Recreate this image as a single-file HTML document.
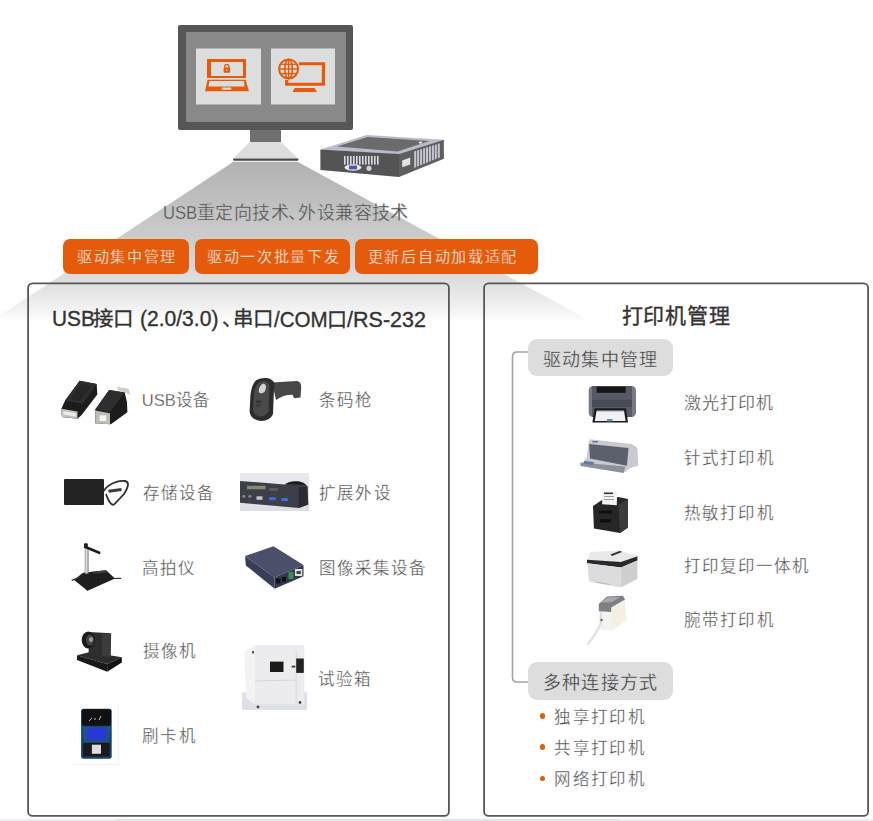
<!DOCTYPE html>
<html lang="zh-CN">
<head>
<meta charset="utf-8">
<style>
html,body{margin:0;padding:0;background:#fff;overflow:hidden;}
body{width:873px;height:821px;position:relative;overflow:hidden;font-family:"Liberation Sans",sans-serif;color:#555;}
.a{position:absolute;white-space:nowrap;line-height:1;}
svg{position:absolute;left:0;top:0;}
.btn{position:absolute;top:239px;height:35px;background:#e65a0b;border-radius:7px;}
.sb{top:204.2px;font-size:18px;color:#4a4a4a;-webkit-text-stroke:0.35px #c4c4c4;}
.bt{top:249.2px;font-size:15px;letter-spacing:1.7px;color:#fff;-webkit-text-stroke:0.3px #e65a0b;}
.tl{position:absolute;white-space:nowrap;line-height:1;transform-origin:0 0;color:#333;-webkit-text-stroke:0.35px #333;}
.box{position:absolute;top:282.5px;height:532px;border:1.6px solid #585858;border-radius:5px;}
.lbl{position:absolute;font-size:16.5px;line-height:1;color:#484848;white-space:nowrap;-webkit-text-stroke:0.3px #fff;}
.pill{position:absolute;left:528px;width:145px;background:#dcdddc;border-radius:9px;}
.pt{color:#3c3c3c;-webkit-text-stroke:0.3px #dcdddc;}
.dot{position:absolute;left:539.7px;width:5.6px;height:5.6px;border-radius:50%;background:#e65a0b;}
</style>
</head>
<body>
<!-- beam -->
<svg width="873" height="821" viewBox="0 0 873 821">
<defs>
<linearGradient id="bg" x1="0" y1="160" x2="0" y2="322" gradientUnits="userSpaceOnUse">
<stop offset="0" stop-color="#b1b1b1"/>
<stop offset="0.34" stop-color="#c4c4c4"/>
<stop offset="0.586" stop-color="#d2d2d2"/>
<stop offset="0.76" stop-color="#e0e0e0"/>
<stop offset="0.864" stop-color="#ebebeb"/>
<stop offset="0.938" stop-color="#f5f5f5"/>
<stop offset="1" stop-color="#ffffff"/>
</linearGradient>
</defs>
<polygon points="233.5,161.8 297.5,161.8 623.5,339 0,339 0,315.5" fill="url(#bg)"/>
<!-- bottom strip -->
<rect x="0" y="819" width="873" height="2" fill="#f0f0f2"/>
<rect x="115" y="819" width="505" height="2" fill="#e3e5eb"/>
</svg>
<svg width="873" height="821" viewBox="0 0 873 821">
<rect x="28.1" y="283.3" width="420.8" height="532.6" rx="4.5" fill="none" stroke="#575757" stroke-width="1.8"/>
<rect x="484.1" y="283.3" width="384" height="532.6" rx="4.5" fill="none" stroke="#575757" stroke-width="1.8"/>
</svg>

<!-- monitor -->
<svg width="873" height="200" viewBox="0 0 873 200">
<rect x="178" y="25" width="175" height="105" rx="2" fill="#575556"/>
<rect x="186" y="32" width="160" height="90" fill="#898989"/>
<rect x="196" y="48.5" width="65" height="56" fill="#dcdedd"/>
<rect x="271" y="48.5" width="64" height="56" fill="#dcdedd"/>
<rect x="250" y="130" width="31" height="12" fill="#6f6f6f"/>
<polygon points="250,142 281,142 298,158.5 233,158.5" fill="#dcdddc"/>
<rect x="233" y="158.5" width="65.5" height="2.2" rx="1.1" fill="#4a4a4a"/>
<!-- laptop icon -->
<g fill="#e75a0b">
<path d="M207,59 H246 V78 H207 Z M211,62 V76 H243 V62 Z" fill-rule="evenodd"/>
<path d="M207.5,79.8 H245.6 L249,91.2 H205 Z M209.5,81 L208.5,86.6 H244.5 L244,81 Z M222.2,87.5 L221.5,89.7 H231.5 L230.9,87.5 Z" fill-rule="evenodd"/>
<rect x="223.6" y="67.6" width="6.4" height="5.1" rx="0.6"/>
<path d="M224.8,68 V66.5 A2,2.2 0 0 1 228.8,66.5 V68" fill="none" stroke="#e75a0b" stroke-width="1.3"/>
</g>
<rect x="226.3" y="69.2" width="1" height="2" fill="#dcdedd"/>
<!-- globe monitor icon -->
<g fill="#e75a0b">
<path d="M299,62.2 H325.1 V85.8 H285.1 V80 H288.3 V82.8 H321.8 V65.2 H299 Z"/>
<path d="M294.6,88 H314.6 L317,91.9 H292.5 Z"/>
<circle cx="288.6" cy="69" r="11" fill="#dcdedd"/>
</g>
<g fill="none" stroke="#e75a0b">
<circle cx="288.6" cy="69" r="9.5" stroke-width="2"/>
<ellipse cx="288.6" cy="69" rx="3.8" ry="9.6" stroke-width="1.6"/>
<line x1="288.6" y1="59.4" x2="288.6" y2="78.6" stroke-width="1.4"/>
<line x1="279" y1="69" x2="298.2" y2="69" stroke-width="1.4"/>
<line x1="280.5" y1="64.3" x2="296.7" y2="64.3" stroke-width="1.3"/>
<line x1="280.5" y1="73.7" x2="296.7" y2="73.7" stroke-width="1.3"/>
</g>
<!-- mini pc -->
<polygon points="320.4,149.4 366.9,134.9 443.9,139.8 399,154.2" fill="#b9bdcb"/>
<polygon points="337,146.6 367.7,137 429.5,141 397.4,151.5" fill="#6b6b6b"/>
<polygon points="320.4,149.4 399,154 399,177.1 320.4,169.9" fill="#545454"/>
<polygon points="399,154 443.9,139.8 443.9,158.7 399,177.1" fill="#5f5f5f"/>
<ellipse cx="420.5" cy="142.6" rx="1.8" ry="1.1" fill="#eee"/>
<g fill="#d8dae6">
<rect x="344" y="156" width="1.6" height="8.6"/><rect x="347" y="156" width="1.6" height="8.6"/><rect x="350" y="156" width="1.6" height="8.6"/><rect x="353" y="156" width="1.6" height="8.6"/><rect x="356" y="156" width="1.6" height="8.6"/><rect x="359" y="156" width="1.6" height="8.6"/><rect x="362" y="156" width="1.6" height="8.6"/><rect x="365" y="156" width="1.6" height="8.6"/><rect x="368" y="156" width="1.6" height="8.6"/><rect x="371" y="156" width="1.6" height="8.6"/><rect x="374" y="156" width="1.6" height="8.6"/><rect x="377" y="156" width="1.6" height="8.6"/>
</g>
<ellipse cx="353" cy="167.5" rx="8.4" ry="3.2" fill="#e8e8ee"/>
<rect x="349" y="165.6" width="8" height="3.8" fill="#4a5aa8"/>
<circle cx="369" cy="168.3" r="2.6" fill="#d0d0d0"/>
<polygon points="402.2,160.5 410.2,157.6 410.2,164.6 402.2,167.2" fill="#e4e4e4"/>
<g fill="#c4c6d4"><polygon points="414.2,151.4 416.2,150.8 416.2,167.0 414.2,167.9"/><polygon points="417.1,150.5 419.1,149.8 419.1,165.8 417.1,166.7"/><polygon points="420.1,149.5 422.1,148.9 422.1,164.6 420.1,165.4"/><polygon points="423.1,148.6 425.1,148.0 425.1,163.4 423.1,164.2"/><polygon points="426.0,147.7 428.0,147.0 428.0,162.2 426.0,163.0"/><polygon points="428.9,146.7 430.9,146.1 430.9,161.0 428.9,161.8"/><polygon points="431.9,145.8 433.9,145.2 433.9,159.8 431.9,160.6"/><polygon points="434.8,144.9 436.8,144.2 436.8,158.6 434.8,159.4"/><polygon points="437.8,143.9 439.8,143.3 439.8,157.4 437.8,158.2"/></g>
</svg>

<div class="a sb" style="left:163.2px;transform:scaleX(0.923);transform-origin:0 0;">USB</div>
<div class="a sb" style="left:196.8px;letter-spacing:0.45px;">重定向技术</div>
<div class="a sb" style="left:288.4px;">、</div>
<div class="a sb" style="left:298.1px;letter-spacing:0.48px;">外设兼容技术</div>

<div class="btn" style="left:63px;width:126px;"></div>
<div class="btn" style="left:195px;width:155px;"></div>
<div class="btn" style="left:355px;width:183px;"></div>
<div class="a bt" style="left:77px;">驱动集中管理</div>
<div class="a bt" style="left:206.9px;">驱动一次批量下发</div>
<div class="a bt" style="left:367.8px;">更新后自动加载适配</div>

<div class="tl" style="left:51.5px;top:309.2px;font-size:21.5px;transform:scaleX(0.97);">USB</div>
<div class="tl" style="left:92.5px;top:308.5px;font-size:20.5px;">接口</div>
<div class="tl" style="left:140.3px;top:308.7px;font-size:21.5px;transform:scaleX(0.979);">(2.0/3.0)</div>
<div class="tl" style="left:221.7px;top:309px;font-size:20px;">、</div>
<div class="tl" style="left:233px;top:308.7px;font-size:20.5px;">串口</div>
<div class="tl" style="left:274.1px;top:309.5px;font-size:21.5px;transform:scaleX(0.957);">/COM</div>
<div class="tl" style="left:327.2px;top:309.9px;font-size:20px;">口</div>
<div class="tl" style="left:347.1px;top:309.5px;font-size:21.5px;">/RS-232</div>
<div class="tl" style="left:621.6px;top:304.9px;font-size:21px;letter-spacing:0.88px;">打印机管理</div>

<!-- left labels -->
<div class="lbl" style="left:141.8px;top:392.2px;letter-spacing:0;">USB设备</div>
<div class="lbl" style="left:318.7px;top:392.2px;letter-spacing:1.25px;">条码枪</div>
<div class="lbl" style="left:142.8px;top:485.1px;letter-spacing:1.03px;">存储设备</div>
<div class="lbl" style="left:318.7px;top:485.1px;letter-spacing:1.37px;">扩展外设</div>
<div class="lbl" style="left:141.8px;top:560.3px;letter-spacing:1.25px;">高拍仪</div>
<div class="lbl" style="left:318.5px;top:560.4px;letter-spacing:1.02px;">图像采集设备</div>
<div class="lbl" style="left:142.8px;top:643.4px;letter-spacing:1.25px;">摄像机</div>
<div class="lbl" style="left:317.7px;top:671.2px;letter-spacing:1.25px;">试验箱</div>
<div class="lbl" style="left:141.8px;top:727.5px;letter-spacing:1.5px;">刷卡机</div>

<!-- product images -->
<svg width="873" height="821" viewBox="0 0 873 821">
<defs>
<linearGradient id="pole" x1="0" y1="0" x2="1" y2="0"><stop offset="0" stop-color="#999"/><stop offset="0.5" stop-color="#e0e0e0"/><stop offset="1" stop-color="#777"/></linearGradient>
<linearGradient id="exbg" x1="0" y1="0" x2="0" y2="1"><stop offset="0" stop-color="#e9eaef"/><stop offset="1" stop-color="#dcdee5"/></linearGradient>
</defs>
<!-- USB adapters -->
<polygon points="79.7,380.7 96.7,383.9 97.3,394.5 81.6,415.1 77.5,418.7 61.9,416.9 61.4,408.7 65.1,400.4" fill="#1c1c1c"/>
<polygon points="79.7,380.7 96.7,383.9 82.5,404.1 65.1,400.4" fill="#2e2e2e"/>
<polygon points="81,384 92,386 80,401 70,399" fill="#262626"/>
<polygon points="61.4,408.7 77.5,411.5 77.5,418.7 61.9,416.9" fill="#c2c1bb"/>
<polygon points="63.2,411.2 75.8,413.3 75.8,416.6 63.4,414.6" fill="#efefea"/>
<polygon points="116.4,386.7 128.3,388.5 130.6,394.9 124.7,392.6 118.2,390.3" fill="#d2d0c6"/>
<polygon points="109.1,389.9 124.7,392.6 127,402.2 127.4,412.3 110.9,424.2 95.3,423.3 95.3,409.6" fill="#1c1c1c"/>
<polygon points="109.1,389.9 124.7,392.6 110,412.3 95.3,409.6" fill="#2e2e2e"/>
<polygon points="95.3,410.5 110,413.2 110,424.2 95.3,423.3" fill="#bdbcb6"/>
<rect x="99.6" y="415.3" width="6.6" height="5.8" fill="#f4f4f2"/>
<!-- barcode scanner -->
<path d="M272,382.5 L297,381 Q301.5,381.5 301.2,388 L300.5,397.5 L294,398.3 L292.5,394.8 Q284,394.5 276,400 Z" fill="#474747"/>
<path d="M266.5,378 Q272.5,378.8 274.2,383 L273,414 Q270.5,420.5 261,421 Q251,420 249.6,412 L250.4,395.5 Q252,383 256.5,380 Q261,377.6 266.5,378 Z" fill="#2c2c2c"/>
<path d="M264.5,381 Q269,382 269.5,386 L268.5,411 Q266,416.5 259,416.5 Q253.5,415 253,409 L253.8,395 Q255,386 258,383 Q261,380.6 264.5,381 Z" fill="#4a4a4a"/>
<path d="M263.5,383.5 Q266.5,384.5 266,388 L264.5,392 Q262,394 259.5,393 Q258,391 259.5,387.5 Q261,384 263.5,383.5 Z" fill="#d4d4d4"/>
<ellipse cx="258.5" cy="401.5" rx="2.6" ry="1.6" fill="#333"/>
<ellipse cx="258" cy="405.5" rx="2.6" ry="1.6" fill="#3a3a3a"/>
<!-- HDD -->
<rect x="64" y="479" width="40" height="26" rx="1" fill="#222"/>
<path d="M103.8,491 C108,484 118,480 125,481 C130,482 128,488 124,494 L114,504.5 C111,506 108,500 106,494" fill="none" stroke="#2e2e2e" stroke-width="1.8"/>
<line x1="108.5" y1="491.3" x2="121.5" y2="489.6" stroke="#3a3a3a" stroke-width="3"/>
<!-- expansion panel -->
<rect x="240" y="473" width="69" height="38" fill="url(#exbg)"/>
<path d="M240,481 L284.7,484.5 Q288,481.3 296,481.2 Q304,481.3 307.4,486.3 L308.2,504.6 L298.7,508 L240,502.8 Z" fill="#3c3e4a"/><path d="M286,484 Q289,481.6 296,481.5 Q303,481.6 306,485 Z" fill="#1c1c20"/>
<polygon points="298.7,487 307.4,486.3 308.2,504.6 298.7,508" fill="#2a2b33"/>
<rect x="247" y="485.8" width="18.6" height="3.5" fill="#7f8c70"/>
<rect x="269" y="488" width="9" height="3" fill="#5a5a58"/>
<rect x="269.1" y="497.2" width="6.5" height="3" fill="#3d6fd6"/>
<rect x="281.3" y="498" width="6.5" height="3.1" fill="#3d6fd6"/>
<rect x="256.5" y="496.3" width="6" height="3.5" fill="#c8c8c8"/>
<circle cx="243.8" cy="496.3" r="1.5" fill="#888"/><circle cx="249.9" cy="496.3" r="1.5" fill="#888"/>
<!-- document camera -->
<polygon points="83,572.8 106,570.3 115,578.4 87.6,590.7 74,580" fill="#1e1e1e"/><polygon points="92,571.8 106,570.3 108.5,572.6 94,574" fill="#3a3a3a"/>
<line x1="71.7" y1="580.4" x2="80" y2="577" stroke="#333" stroke-width="1.2"/>
<line x1="114" y1="578.5" x2="121.1" y2="578.3" stroke="#333" stroke-width="1.2"/>
<line x1="86.5" y1="590" x2="89" y2="587" stroke="#222" stroke-width="2"/>
<rect x="84.7" y="548.6" width="3.9" height="25" fill="url(#pole)"/>
<line x1="85.5" y1="547" x2="99.2" y2="552.8" stroke="#1e1e1e" stroke-width="2.6" stroke-linecap="round"/>
<rect x="84" y="543.3" width="3.8" height="5" rx="1" fill="#1e1e1e"/>
<!-- capture device -->
<polygon points="245.1,556 273.5,546.3 303.5,565 274.7,577.4" fill="#4c4f6a"/>
<polygon points="245.1,556 274.7,577.4 274.7,588.7 245.8,565.4" fill="#3a3d56"/>
<polygon points="274.7,577.4 303.5,565 303.5,576.3 274.7,588.7" fill="#34374d"/>
<rect x="295" y="569" width="7.3" height="7" fill="#e0e0e0"/>
<rect x="296.5" y="571" width="4.3" height="3" fill="#444"/>
<rect x="288.5" y="572" width="5" height="7" fill="#3a8a5a"/>
<rect x="275.8" y="578.6" width="4.7" height="4.7" fill="#111"/>
<rect x="282" y="577" width="4" height="4.7" fill="#111"/>
<!-- PTZ camera -->
<polygon points="77,655.2 89.9,651.9 121.8,657.2 107.2,663.9" fill="#2c2c2c"/>
<polygon points="77,655.2 107.2,663.9 107.2,671.8 77,659.9" fill="#1a1a1a"/>
<polygon points="107.2,663.9 121.8,657.2 121.8,662.5 107.2,671.8" fill="#111"/>
<path d="M88.6,632 L111.2,633.3 L110.5,657.2 Q100,660 88.6,656.6 Z" fill="#2e2e2e"/>
<path d="M102,634 L111,634 L110.5,657 L102,656 Z" fill="#3c3c3c"/>
<ellipse cx="88.3" cy="640" rx="6.6" ry="8.6" fill="#1a1a1a"/>
<ellipse cx="90" cy="640" rx="4" ry="5.5" fill="#444"/>
<ellipse cx="91" cy="639.5" rx="2" ry="2.5" fill="#9aa0b0"/>
<!-- test chamber -->
<rect x="242.1" y="692.3" width="64.9" height="17.6" fill="#dde0ea"/>
<polygon points="244.3,651.7 255.1,645 255.1,704.5 246.1,697.7" fill="#f3f3f3"/>
<rect x="255.1" y="645" width="49.2" height="59.5" fill="#ececee"/>
<line x1="255" y1="681" x2="296" y2="680" stroke="#d0d0d4" stroke-width="0.8"/>
<line x1="296.2" y1="650" x2="296.2" y2="704" stroke="#d6d6da" stroke-width="0.8"/>
<rect x="270" y="661.6" width="13.5" height="10.4" fill="#1a1a1a"/>
<rect x="296.2" y="658.5" width="7.6" height="14.4" fill="#222"/>
<rect x="291.7" y="665.7" width="3.6" height="1.8" fill="#333"/>
<circle cx="258" cy="707" r="1.4" fill="#444"/><circle cx="300" cy="702.5" r="1.4" fill="#444"/>
<rect x="252" y="651" width="2" height="2.5" fill="#555"/>
<!-- card reader -->
<rect x="73" y="764" width="46" height="0.8" fill="#ececec"/>
<rect x="118" y="704" width="0.8" height="61" fill="#f0f0f0"/>
<rect x="81.1" y="708.7" width="30.6" height="50.1" rx="2.5" fill="#17406a"/>
<rect x="81.8" y="709.2" width="29.2" height="16.5" rx="2" fill="#111"/>
<polygon points="82,726.5 111,726.5 109,742 84,742" fill="#1d5284"/>
<rect x="86.9" y="728.1" width="19" height="11.6" fill="#2b36d6"/>
<rect x="83.2" y="743" width="26.5" height="13.3" fill="#1a1a1a"/>
<rect x="91.9" y="744.7" width="9.1" height="9.1" fill="#ddd"/>
<path d="M89,721 L92,718 M94,719 L96,719 M99,720 L101,716" stroke="#eee" stroke-width="0.8"/>
<!-- laser printer -->
<rect x="588.7" y="386" width="47.3" height="31" rx="4.5" fill="#767a84"/>
<rect x="592" y="386" width="40" height="31" fill="#565a64"/>
<rect x="596.6" y="386.7" width="29.1" height="6.1" fill="#161616"/>
<rect x="592" y="399.9" width="40" height="7.1" fill="#474b55"/>
<polygon points="594.5,408.2 626,408.2 628,422.6 592.4,422.6" fill="#1c1c1c"/>
<polygon points="596.6,410.8 624,410.8 625.6,420.9 594.8,420.9" fill="#f0f2f8"/>
<rect x="597" y="410.8" width="26.6" height="1.4" fill="#c8ccd6"/>
<rect x="606.9" y="419" width="5.6" height="2.5" fill="#6a8ab0"/>
<!-- dot matrix -->
<polygon points="590,439.2 631.7,444 637.4,448 638.2,465.7 630.1,468.1 625.3,472.1 580.4,464.9 586.8,457.7 588.4,443.2" fill="#c8cad0"/>
<polygon points="589.2,444 628.5,448 626.9,465.7 590,458.5" fill="#5c606c"/>
<polygon points="580.4,462.5 625.3,466.5 623.7,472.9 580.4,466" fill="#8c9099"/>
<polygon points="584,461 594,462 593,465 584,464" fill="#5a78b0"/>
<rect x="592.4" y="441.2" width="5.6" height="1.2" fill="#4a60a0"/>
<!-- thermal -->
<polygon points="593,506.1 601.2,500.6 618.3,497 628,499.1 628,527.4 620.1,532.9 593.9,528.6" fill="#262626"/>
<polygon points="618.3,505 628,499.1 628,527.4 620.1,532.9" fill="#3a3a3a"/>
<polygon points="602.4,490.9 617.1,491.8 616.8,505.2 602.1,504.3" fill="#f4f4f4"/>
<rect x="604" y="492.5" width="9" height="1.6" fill="#333"/>
<rect x="604" y="496" width="10" height="0.8" fill="#888"/>
<rect x="604" y="499" width="10" height="0.8" fill="#888"/>
<rect x="598.8" y="510.7" width="13.1" height="2.7" fill="#0e0e0e"/>
<rect x="600" y="519.2" width="11" height="3.3" fill="#0e0e0e"/>
<!-- MFP -->
<polygon points="590.5,552 617.5,550.5 637.4,555.5 621,563.3 587,561.2" fill="#e9e9eb"/>
<polygon points="610.4,554.5 620,550.8 622,552 612,556" fill="#333"/>
<polygon points="587,559.8 621,562 637.4,556.2 637.4,560.5 621,567.6 587,563.3" fill="#2a2a2a"/>
<polygon points="587.3,563.3 621,567.6 620.7,587.5 589.1,581.8" fill="#dcdcde"/>
<polygon points="621,567.6 637.4,560.5 637.4,578.9 620.7,587.5" fill="#cfcfd2"/>
<line x1="596" y1="582" x2="610" y2="584.5" stroke="#bbb" stroke-width="1"/>
<!-- wristband -->
<polygon points="598.4,611 611.2,611.9 611.2,631 598.4,629.5" fill="#f3f3f0"/>
<polygon points="611.2,607.5 625.1,599.5 626.6,620.7 611.2,631" fill="#f4f1e2"/>
<polygon points="598.8,603.9 606.9,596.6 622.9,595.8 625.1,599.5 611.2,607.5 611.2,611.9 598.8,611.2" fill="#7e8084"/>
<polygon points="601,602.5 607.5,597.5 620,597 612,602" fill="#a8aaae"/>
<line x1="601" y1="612" x2="601" y2="626" stroke="#ddd" stroke-width="2"/>
<circle cx="601.5" cy="620" r="1.3" fill="#8a6a5a"/>
<path d="M600,625 Q596,634 588,644" fill="none" stroke="#e4e4e4" stroke-width="2.6" stroke-linecap="round"/>
</svg>

<!-- right -->
<svg width="873" height="821" viewBox="0 0 873 821">
<path d="M528,352 H517 Q512.5,352 512.5,356.5 V677.5 Q512.5,682 517,682 H528" fill="none" stroke="#a3a3a3" stroke-width="1.6"/>
</svg>
<div class="pill" style="top:339px;height:37px;"></div>
<div class="pill" style="top:662px;height:38px;"></div>
<div class="a pt" style="left:543.1px;top:350.9px;font-size:18px;letter-spacing:1.2px;">驱动集中管理</div>
<div class="a pt" style="left:542.8px;top:673.9px;font-size:18px;letter-spacing:1.3px;">多种连接方式</div>

<div class="lbl" style="left:683.8px;top:395.2px;font-size:17px;letter-spacing:0.95px;">激光打印机</div>
<div class="lbl" style="left:683.8px;top:449.7px;letter-spacing:1.2px;">针式打印机</div>
<div class="lbl" style="left:683.8px;top:504.7px;letter-spacing:1.2px;">热敏打印机</div>
<div class="lbl" style="left:683.8px;top:557.7px;letter-spacing:1.03px;">打印复印一体机</div>
<div class="lbl" style="left:683.8px;top:612.1px;letter-spacing:1.2px;">腕带打印机</div>

<div class="dot" style="top:713px;"></div>
<div class="dot" style="top:744px;"></div>
<div class="dot" style="top:775.5px;"></div>
<div class="lbl" style="left:554.3px;top:709.2px;letter-spacing:1.35px;">独享打印机</div>
<div class="lbl" style="left:554.3px;top:740.4px;letter-spacing:1.35px;">共享打印机</div>
<div class="lbl" style="left:554.3px;top:771.4px;letter-spacing:1.35px;">网络打印机</div>

</body>
</html>
